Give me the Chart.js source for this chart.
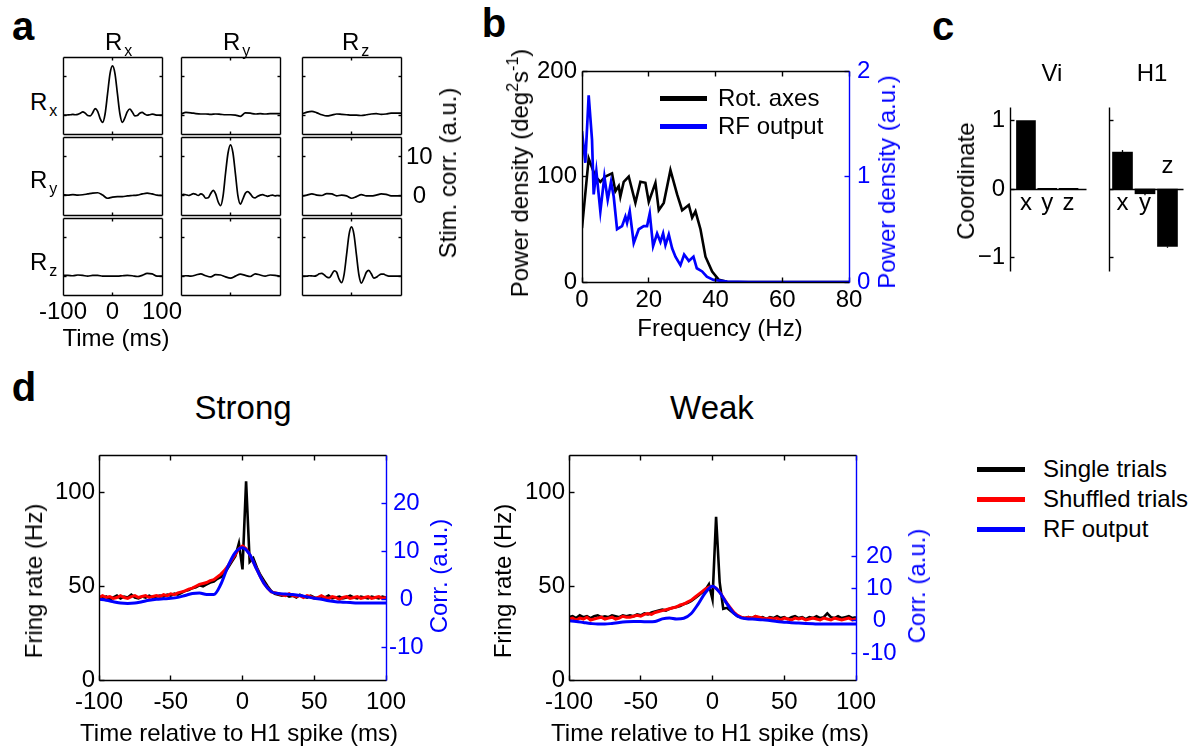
<!DOCTYPE html>
<html>
<head>
<meta charset="utf-8">
<script src="https://cdn.jsdelivr.net/npm/chart.js@4.4.0/dist/chart.umd.min.js"></script>
<style>
body { margin: 0; background: #fff; font-family: 'Liberation Sans', Arial, sans-serif; }
#fig { position: relative; width: 1193px; height: 747px; overflow: hidden; }
canvas { position: absolute; }
.txt { position: absolute; white-space: nowrap; line-height: 1; color: #000; }
.sub { font-size: 16px; position: relative; top: 6px; margin-left: 2px; }
.sup { font-size: 16px; position: relative; top: -10px; }
.key { position: absolute; height: 5px; }
</style>
</head>
<body>
<div id="fig"></div>
<script>
// ---- panel a: stimulus correlations (time in ms, a.u.)
var aTime5 = [-100,-95,-90,-85,-80,-75,-70,-65,-60,-55,-50,-45,-40,-35,-30,-25,-20,-15,-10,-5,0,5,10,15,20,25,30,35,40,45,50,55,60,65,70,75,80,85,90,95,100];
var aTime10 = [-100,-90,-80,-70,-60,-50,-40,-30,-20,-10,0,10,20,30,40,50,60,70,80,90,100];
var rxRx = [0,0,0.05,0.1,0.2,0.1,0.2,0.5,0.85,0.5,-0.1,-0.2,0.6,1.7,1.0,-0.9,-1.9,0.3,5.5,10.8,12.8,10.8,5.5,0.3,-1.9,-0.7,0.9,1.6,0.8,-0.2,-0.1,0.5,0.7,0.3,0,0.1,0.25,0.15,0,0,0];
var ryRy = [0.2,0.4,0.3,0.1,0.3,0.6,0.4,0.1,0.5,0.2,-0.6,-0.5,0.6,1.4,0.5,-1.5,-2.5,0,5.8,11.0,13.1,11.0,5.6,0,-2.1,-0.8,0.7,1.1,0.5,-0.3,-0.5,-0.1,0.2,0.3,0.1,-0.1,0.1,0.2,0,0.1,0];
var rzRz = [0,0,0,0.1,0.05,0,0.2,0.6,0.7,0.3,-0.2,-0.4,0.4,1.4,1.0,-0.8,-1.7,0.4,5.5,10.8,12.8,10.8,5.5,0.3,-1.8,-0.6,1.0,1.5,0.6,-0.5,-0.3,0.2,0.5,0.5,0.2,0,0,0,0,0,0];
var rxRy = [0.3,0.7,0.6,0.4,0.3,0.3,0.2,0.3,0.2,0.1,0.1,0,-0.3,0.6,0.5,0.3,0.4,0.3,0.4,0.4,0.4];
var rxRz = [0.3,0.8,1.0,0.6,0.1,-0.2,0,0.3,0.2,0.1,0,0,-0.1,0.1,0.3,0.4,0.2,0.3,0.5,0.5,0.5];
var ryRx = [0.3,0.2,0.3,0.2,0.3,0.5,0.7,0.8,0.2,-0.6,-0.3,-0.2,-0.2,0,0.1,0.2,0.5,0.7,0.5,0.2,0.1];
var ryRz = [-0.1,0.2,0.5,0.2,0.1,0.6,0.5,0,0.2,0,-0.6,-0.2,0.3,0,0,0.2,0.5,0.4,0,0,0];
var rzRx = [0.2,0.2,0.1,0.3,0.2,0,0.2,0.2,0,0,0,0,0.1,0.2,0.1,-0.1,0.2,0.7,0.6,0,0];
var rzRy = [0,0.1,0,0.3,0.6,0.1,-0.2,0.4,0.3,-0.2,-0.5,0,0.5,0.2,-0.1,0.6,0.3,0,0.3,0.2,0];
var aXTicks = [-100, 0, 100];
var aYTicks = [0, 10];

// ---- panel b: power spectra
var bFreqK = [0,2,4,5.5,7,9,10,11,11.5,12.5,14,16,17.5,19,20,22,23,24.5,26.5,28.5,30,32,33,34,35.5,37,39,41,43.5,50,60,70,80];
var bPowK = [51,117,100,95,100,103,86,91,81,95,100,75,95,94,76,94,68,75,106,83,68,73,61,67,50,24,10,2,0.3,0,0,0,0];
var bFreqB = [0,1,2,3,3.5,4.3,5.5,6.7,7.7,8.7,9.5,10.5,12,13,13.5,14.3,15.5,17,18.5,19.5,20.3,21.3,22.5,23.5,24.3,25,26,27,28,29.5,30.6,32,33.4,34.4,36,37.4,39.4,43.5,50,60,70,80];
var bPowB = [1.43,1.13,1.77,1.35,0.83,1.05,0.67,1.0,0.78,0.95,0.81,0.50,0.53,0.62,0.56,0.67,0.37,0.50,0.53,0.53,0.65,0.34,0.46,0.38,0.46,0.35,0.45,0.32,0.24,0.16,0.26,0.20,0.24,0.13,0.10,0.05,0.02,0.003,0,0,0,0];
var bXTicks = [0, 20, 40, 60, 80];
var bYTicks = [0, 100, 200];
var bY2Ticks = [0, 1, 2];

// ---- panel c: coordinates
var cLabels = ['x', 'y', 'z'];
var viValues = [1.0, 0.01, 0.01];
var h1Values = [0.54, -0.07, -0.84];
var h1Errors = [0.03, 0.02, 0.02];
var cYTicks = [-1, 0, 1];

// ---- panel d: firing rate around H1 spike
var dTime25 = [-100,-97.5,-95,-92.5,-90,-87.5,-85,-82.5,-80,-77.5,-75,-72.5,-70,-67.5,-65,-62.5,-60,-57.5,-55,-52.5,-50,-47.5,-45,-42.5,-40,-37.5,-35,-32.5,-30,-27.5,-25,-22.5,-20,-17.5,-15,-12.5,-10,-7.5,-5,-2.5,0,2.5,5,7.5,10,12.5,15,17.5,20,22.5,25,27.5,30,32.5,35,37.5,40,42.5,45,47.5,50,52.5,55,57.5,60,62.5,65,67.5,70,72.5,75,77.5,80,82.5,85,87.5,90,92.5,95,97.5,100];
var dTime5 = aTime5;
var strongSingle = [44,43.5,44.5,43,44,45,43.5,44.5,44,45.5,44,43.5,44.5,44,45,44,44.5,
  45,44.5,45.5,45,46,45.5,46.5,47.5, 48,49,49.5,50.5,50,51,52,52.5, 54,55,57,60,63,
  66,73,59,106,63,65, 60,56,53,50,47.5, 46,45.5,45,45.5,44.5,45,44,45.5,
  44.5,44,45,44,43.5,44.5,44,45,43.5,44,44.5,43.5,44,45,44,43.5,44.5,44,43.5,44.5,44,43.5,44.5,44];
var strongShuffled = [44,45,44,44.5,43.5,44,45,44,43.5,44.5,45,44,44.5,45,44,44.5,45,
  44.5,45.5,45,46,45.5,46.5,47,47.5, 48.5,49,50,51,51.5,52,53,53.5, 55,56.5,58.5,61,64,
  67,70,71.5,70,67,63, 59,55,51.5,49,47, 46.5,46,45.5,45,46,45,44.5,45,
  44,45,44.5,43.5,44,45,44,43.5,44.5,44,43,44,44.5,43.5,44,44.5,43.5,44,44.5,43.5,44,44.5,43.5,44];
var strongRF = [0,-0.2,-0.5,-0.8,-0.9,-0.8,-0.5,-0.2,0,0.1,0.2,0.4,0.8,1.2,1.3,1.0,1.0,3.2,7.0,9.8,10.8,9.4,6.2,3.3,1.6,1.2,1.1,1.0,0.8,0.5,0.2,0,-0.3,-0.5,-0.6,-0.7,-0.8,-0.8,-0.8,-0.8,-0.8];
var weakSingle = [33.5,34,33,34.5,33.5,34,33,34,34.5,33.5,34,33.5,34.5,34,33.5,34.5,34,
  34.5,34,35,34.5,35.5,35,36,36.5, 37,37.5,37,38,38.5,39,39.5,40.5, 41,42,43.5,45,46.5,
  48,51,43,87,52,38, 38.5,37,35.5,34,33.5, 33,33.5,33,34,33,33.5,32.5,33.5,
  33,34,33,33.5,32.5,33.5,34,33,33.5,32.5,33.5,33,34,33,33.5,35.5,33.5,33,34,33,33.5,34,33,33.5];
var weakShuffled = [32.5,33,32,33,32.5,33.5,32,32.5,33,33.5,32.5,33,33.5,32.5,33,34,33.5,
  33.5,34,34.5,34,35,35.5,35,36, 36.5,37,37.5,38,38.5,39,40,40.5, 41.5,42.5,44,45.5,47,
  48.5,49.5,50,49,47,44, 41,38.5,36,34.5,33.5, 33,33.5,33,34,33.5,33,32.5,33,
  32.5,33,32,33,32.5,32,33,32.5,33,32,32.5,33,32.5,32,33,32.5,32,33,32.5,32,32.5,33,32,32.5];
var weakRF = [0,-0.2,-0.5,-0.8,-1.0,-1.0,-0.8,-0.5,-0.3,-0.2,-0.2,-0.3,-0.2,0.6,0.9,0.6,0.8,2.2,5.2,8.7,10.7,8.8,5.3,2.3,0.9,0.6,0.5,0.3,0.1,-0.2,-0.4,-0.6,-0.7,-0.8,-0.9,-1.0,-1.0,-1.0,-1.0,-1.0,-1.0];
var dXTicks = [-100, -50, 0, 50, 100];
var dYTicks = [0, 50, 100];
var dY2Ticks = [-10, 0, 10, 20];

var BLUE = '#0000ff', RED = '#ff0000';
var fig = document.getElementById('fig');

Chart.defaults.font.family = "'Liberation Sans', Arial, sans-serif";
Chart.defaults.font.size = 24;
Chart.defaults.color = '#000';
Chart.defaults.animation = false;
Chart.defaults.responsive = false;
Chart.defaults.plugins.legend.display = false;
Chart.defaults.plugins.tooltip.enabled = false;
Chart.defaults.elements.point.radius = 0;

// box around the plot area plus inward ticks, matlab style
var frame = {
  id: 'frame',
  afterDatasetsDraw(chart, args, o) {
    var s = o.sides;
    if (!s) return;
    var ctx = chart.ctx, a = chart.chartArea, sc = chart.scales;
    var L = o.tick || 0;
    var snap = function (v) { return Math.round(v - 0.5) + 0.5; };
    var l = snap(a.left), r = snap(a.right), t = snap(a.top), b = snap(a.bottom);
    ctx.save();
    ctx.lineWidth = o.width || 1.3;
    function seg(col, x1, y1, x2, y2) {
      if (!col) return;
      ctx.strokeStyle = col;
      ctx.beginPath(); ctx.moveTo(x1, y1); ctx.lineTo(x2, y2); ctx.stroke();
    }
    (o.xTicks || []).forEach(function (v) {
      var px = snap(sc.x.getPixelForValue(v));
      seg(s.bottom, px, b, px, b - L);
      seg(s.top, px, t, px, t + L);
    });
    (o.yTicks || []).forEach(function (v) {
      var py = snap(sc.y.getPixelForValue(v));
      seg(s.left, l, py, l + L, py);
      if (!o.y2Ticks) seg(s.right, r, py, r - L, py);
    });
    (o.y2Ticks || []).forEach(function (v) {
      var py = snap(sc.y2.getPixelForValue(v));
      seg(s.right, r, py, r - L, py);
    });
    if (o.zero) {
      var pz = snap(sc.y.getPixelForValue(0));
      seg('#000', l, pz, r, pz);
    }
    seg(s.top, l, t, r, t);
    seg(s.bottom, l, b, r, b);
    seg(s.left, l, t, l, b);
    seg(s.right, r, t, r, b);
    ctx.restore();
  }
};

// x / y / z names next to the bars in panel c, and the small error bars
var barLabels = {
  id: 'barLabels',
  afterDatasetsDraw(chart, args, o) {
    if (!o.labels) return;
    var ctx = chart.ctx, sc = chart.scales;
    var data = chart.data.datasets[0].data;
    var y0 = sc.y.getPixelForValue(0);
    ctx.save();
    ctx.font = "24px 'Liberation Sans'";
    ctx.textAlign = 'center';
    ctx.textBaseline = 'middle';
    ctx.fillStyle = '#000';
    ctx.strokeStyle = '#000';
    ctx.lineWidth = 1.3;
    data.forEach(function (p, i) {
      var px = sc.x.getPixelForValue(p.x);
      ctx.fillText(o.labels[i], px, p.y < -0.3 ? y0 - 23 : y0 + 14);
      var e = o.errors ? o.errors[i] : 0;
      if (e) {
        var dir = p.y < 0 ? -1 : 1;
        ctx.beginPath();
        ctx.moveTo(px, sc.y.getPixelForValue(p.y));
        ctx.lineTo(px, sc.y.getPixelForValue(p.y + dir * e));
        ctx.stroke();
      }
    });
    ctx.restore();
  }
};
Chart.register(frame, barLabels);

function pts(xs, ys) {
  return xs.map(function (x, i) { return {x: x, y: ys[i]}; });
}
function setTicks(arr) {
  return function (s) { s.ticks = arr.map(function (v) { return {value: v}; }); };
}
function fix(n) {
  return function (s) { if (s.isHorizontal()) s.height = n; else s.width = n; };
}
// canvas so that the plot area lands on area = [left, top, right, bottom]
function mk(area, m) {
  var c = document.createElement('canvas');
  c.width = area[2] - area[0] + m[0] + m[2];
  c.height = area[3] - area[1] + m[1] + m[3];
  c.style.left = (area[0] - m[0]) + 'px';
  c.style.top = (area[1] - m[1]) + 'px';
  fig.appendChild(c);
  return c;
}
var noGrid = {display: false, drawTicks: false};
var noBorder = {display: false};
var allBlack = {top: '#000', right: '#000', bottom: '#000', left: '#000'};
var blueRight = {top: '#000', right: BLUE, bottom: '#000', left: '#000'};
var flatTicks = {maxRotation: 0, minRotation: 0, autoSkip: false};

// ---------- panel a
var colL = [63, 181, 302], colR = [162, 280, 401];
var rowT = [57, 137, 218], rowB = [134, 215, 295];
var aCurves = [[rxRx, rxRy, rxRz], [ryRx, ryRy, ryRz], [rzRx, rzRy, rzRz]];
for (var r = 0; r < 3; r++) {
  for (var c = 0; c < 3; c++) {
    var showX = (r === 2 && c === 0), showY = (r === 1 && c === 2);
    var m = [showX ? 32 : 3, showY ? 22 : 3, showY ? 48 : (showX ? 28 : 3), showX ? 36 : (showY ? 22 : 3)];
    new Chart(mk([colL[c], rowT[r], colR[c], rowB[r]], m), {
      type: 'line',
      data: {datasets: [{
        data: pts(r === c ? aTime5 : aTime10, aCurves[r][c]),
        borderColor: '#000', borderWidth: 1.7, cubicInterpolationMode: 'monotone'
      }]},
      options: {
        layout: {padding: {left: m[0], top: m[1], right: showY ? m[2] - 45 : m[2], bottom: showX ? m[3] - 32 : m[3]}},
        scales: {
          x: {type: 'linear', min: -100, max: 100, display: showX, grid: noGrid, border: noBorder,
              ticks: Object.assign({padding: 3}, flatTicks), afterBuildTicks: setTicks(aXTicks), afterFit: showX ? fix(32) : undefined},
          y: {min: -4.9, max: 15.1, position: 'right', display: showY, grid: noGrid, border: noBorder,
              ticks: {padding: 5, crossAlign: 'center'}, afterBuildTicks: setTicks(aYTicks), afterFit: showY ? fix(45) : undefined}
        },
        plugins: {frame: {sides: allBlack, width: 1.4, tick: 3, xTicks: [0], yTicks: aYTicks}}
      }
    });
  }
}

// ---------- panel b
new Chart(mk([582, 71, 849, 282], [64, 25, 34, 40]), {
  type: 'line',
  data: {datasets: [
    {label: 'RF output', data: pts(bFreqB, bPowB), yAxisID: 'y2', borderColor: BLUE, borderWidth: 2.7},
    {label: 'Rot. axes', data: pts(bFreqK, bPowK), yAxisID: 'y', borderColor: '#000', borderWidth: 2.6}
  ]},
  options: {
    layout: {padding: {left: 2, top: 25, right: 2, bottom: 2}},
    scales: {
      x: {type: 'linear', min: 0, max: 80, grid: noGrid, border: noBorder, ticks: Object.assign({padding: 4}, flatTicks),
          afterBuildTicks: setTicks(bXTicks), afterFit: fix(38)},
      y: {min: 0, max: 200, position: 'left', grid: noGrid, border: noBorder, ticks: {padding: 5},
          afterBuildTicks: setTicks(bYTicks), afterFit: fix(62)},
      y2: {min: 0, max: 2, position: 'right', grid: noGrid, border: noBorder, ticks: {padding: 8, color: BLUE},
           afterBuildTicks: setTicks(bY2Ticks), afterFit: fix(32)}
    },
    plugins: {frame: {sides: blueRight, width: 1.4, tick: 5, xTicks: bXTicks, yTicks: bYTicks, y2Ticks: bY2Ticks}}
  }
});

// ---------- panel c
function coordChart(area, m, values, errs, xr, thick, showAxis) {
  new Chart(mk(area, m), {
    type: 'bar',
    data: {datasets: [{
      data: values.map(function (v, i) { return {x: i + 1, y: v}; }),
      backgroundColor: '#000', barThickness: thick
    }]},
    options: {
      layout: {padding: {left: showAxis ? m[0] - 32 : m[0], top: m[1], right: m[2], bottom: m[3]}},
      scales: {
        x: {type: 'linear', min: xr[0], max: xr[1], offset: false, display: false},
        y: {min: -1.2, max: 1.2, display: showAxis, grid: noGrid, border: noBorder,
            ticks: {padding: 5, callback: function (v) { return v < 0 ? '\u2212' + (-v) : String(v); }},
            afterBuildTicks: setTicks(cYTicks), afterFit: showAxis ? fix(32) : undefined}
      },
      plugins: {
        frame: {sides: {left: '#000'}, width: 1.4, tick: 4, yTicks: cYTicks, zero: true},
        barLabels: {labels: cLabels, errors: errs}
      }
    }
  });
}
coordChart([1010, 107, 1086, 271], [34, 22, 4, 22], viValues, null, [0.25, 3.82], 19, true);
coordChart([1109, 107, 1183, 271], [4, 4, 4, 4], h1Values, h1Errors, [0.4, 3.69], 20, false);

// ---------- panel d
function rateChart(area, single, shuffled, rf, y2min, y2max, y2pad) {
  new Chart(mk(area, [64, 25, 49, 44]), {
    type: 'line',
    data: {datasets: [
      {label: 'RF output', data: pts(dTime5, rf), yAxisID: 'y2', borderColor: BLUE, borderWidth: 3, cubicInterpolationMode: 'monotone'},
      {label: 'Shuffled trials', data: pts(dTime25, shuffled), yAxisID: 'y', borderColor: RED, borderWidth: 3},
      {label: 'Single trials', data: pts(dTime25, single), yAxisID: 'y', borderColor: '#000', borderWidth: 2.6}
    ]},
    options: {
      layout: {padding: {left: 2, top: 25, right: 2, bottom: 2}},
      scales: {
        x: {type: 'linear', min: -100, max: 100, grid: noGrid, border: noBorder, ticks: Object.assign({padding: 8}, flatTicks),
            afterBuildTicks: setTicks(dXTicks), afterFit: fix(42)},
        y: {min: 0, max: 120, position: 'left', grid: noGrid, border: noBorder, ticks: {padding: 4},
            afterBuildTicks: setTicks(dYTicks), afterFit: fix(62)},
        y2: {min: y2min, max: y2max, position: 'right', grid: noGrid, border: noBorder,
             ticks: {padding: y2pad, color: BLUE, crossAlign: 'center'},
             afterBuildTicks: setTicks(dY2Ticks), afterFit: fix(47)}
      },
      plugins: {frame: {sides: blueRight, width: 1.4, tick: 5, xTicks: dXTicks, yTicks: dYTicks, y2Ticks: dY2Ticks}}
    }
  });
}
rateChart([99, 455, 386, 680], strongSingle, strongShuffled, strongRF, -16.9, 30.2, 3);
rateChart([569, 455, 856, 680], weakSingle, weakShuffled, weakRF, -18.3, 51.3, 6);

// ---------- text
function label(html, x, y, o) {
  o = o || {};
  var d = document.createElement('div');
  d.className = 'txt';
  d.innerHTML = html;
  d.style.left = x + 'px';
  d.style.top = y + 'px';
  d.style.fontSize = (o.size || 24) + 'px';
  if (o.bold) d.style.fontWeight = 'bold';
  if (o.color) d.style.color = o.color;
  d.style.transform = (o.left ? 'translate(0,-50%)' : 'translate(-50%,-50%)') + (o.rot ? ' rotate(-90deg)' : '');
  fig.appendChild(d);
}
function key(color, x1, x2, y) {
  var d = document.createElement('div');
  d.className = 'key';
  d.style.background = color;
  d.style.left = x1 + 'px';
  d.style.width = (x2 - x1) + 'px';
  d.style.top = (y - 2.5) + 'px';
  fig.appendChild(d);
}

label('a', 23, 26, {size: 40, bold: true});
label('b', 494, 23, {size: 40, bold: true});
label('c', 943, 26, {size: 40, bold: true});
label('d', 24, 387, {size: 40, bold: true});

// a
label('R<span class="sub">x</span>', 105, 42, {left: true});
label('R<span class="sub">y</span>', 223, 42, {left: true});
label('R<span class="sub">z</span>', 342, 42, {left: true});
label('R<span class="sub">x</span>', 30, 102, {left: true});
label('R<span class="sub">y</span>', 30, 180, {left: true});
label('R<span class="sub">z</span>', 30, 262, {left: true});
label('Stim. corr. (a.u.)', 448, 173, {rot: true});
label('Time (ms)', 116, 338);

// b
label('Frequency (Hz)', 720, 328);
label('Power density (deg<span class="sup">2</span>s<span class="sup">-1</span>)', 520, 173, {rot: true});
label('Power density (a.u.)', 887, 182, {rot: true, color: BLUE});
key('#000', 660, 707, 98);
key(BLUE, 660, 707, 126);
label('Rot. axes', 718, 98, {left: true});
label('RF output', 718, 126, {left: true});

// c
label('Vi', 1052, 73);
label('H1', 1152, 73);
label('Coordinate', 966, 181, {rot: true});

// d
label('Strong', 243, 407, {size: 33});
label('Weak', 712, 407, {size: 33});
label('Fring rate (Hz)', 34, 581, {rot: true});
label('Fring rate (Hz)', 503, 581, {rot: true});
label('Corr. (a.u.)', 439, 576, {rot: true, color: BLUE});
label('Corr. (a.u.)', 917, 586, {rot: true, color: BLUE});
label('Time relative to H1 spike (ms)', 239, 733);
label('Time relative to H1 spike (ms)', 710, 733);
key('#000', 977, 1025, 469);
key(RED, 977, 1025, 499);
key(BLUE, 977, 1025, 529);
label('Single trials', 1043, 469, {left: true});
label('Shuffled trials', 1043, 499, {left: true});
label('RF output', 1043, 529, {left: true});
</script>
</body>
</html>
